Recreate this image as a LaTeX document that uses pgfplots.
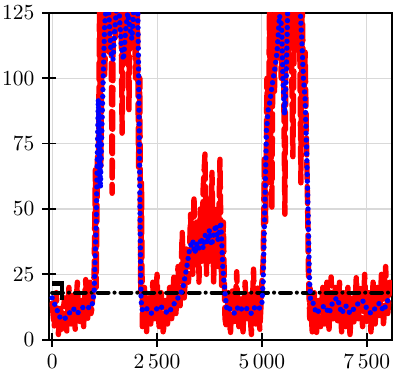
\documentclass[border=0pt]{standalone}
\usepackage{pgfplots}
\pgfplotsset{compat=1.18}
\usetikzlibrary{calc}

\begin{document}
\begin{tikzpicture}
\begin{axis}[
  scale only axis,
  width=159.5pt, height=152pt,
  xmin=-75, xmax=8100,
  ymin=0, ymax=125,
  xtick={0,2500,5000,7500},
  ytick={0,25,50,75,100,125},
  /pgf/number format/1000 sep={\,},
  scaled x ticks=false,
  xtick pos=bottom, ytick pos=left,
  tick align=center,
  major tick length=6.5pt,
  every tick/.style={black, line width=0.8pt},
  axis line style={line width=0.8pt},
  grid=major,
  major grid style={gray!30, line width=0.5pt},
]
% noisy raw signal
\addplot[red, line width=2.5pt, line cap=round, line join=round,
  dash pattern=on 8pt off 3.3pt] coordinates {
(0,14) (25,9) (50,5) (75,12) (100,18) (125,7) (150,2) (175,10) (200,12) (225,4) (250,8)
(275,13) (300,16) (325,9) (350,3) (375,12) (400,20) (425,10) (450,6) (475,14)
(500,17) (525,9) (550,4) (575,15) (600,22) (625,12) (650,7) (675,13) (700,15) (725,9)
(750,5) (775,16) (800,23) (825,12) (850,8) (875,17) (900,22) (925,10) (950,12)
(1000,25) (1030,65) (1050,20) (1080,70) (1100,60) (1130,128) (1160,66) (1200,130)
(1250,100) (1300,130) (1350,110) (1400,130) (1430,56) (1460,130) (1500,115) (1550,130)
(1600,120) (1640,130) (1667,79) (1700,130) (1750,110) (1800,130) (1830,88) (1860,130)
(1900,115) (1950,130) (1990,100) (2030,130) (2060,66) (2090,100) (2110,18) (2130,60)
(2150,5) (2175,14) (2200,20) (2225,9) (2250,3) (2275,12) (2300,16) (2325,10) (2350,6)
(2375,15) (2400,22) (2425,12) (2450,8) (2475,16) (2500,25) (2525,11) (2550,5) (2575,13)
(2600,18) (2625,8) (2650,2) (2675,11) (2700,15) (2725,10) (2750,6) (2775,14) (2800,20)
(2825,12) (2850,8) (2875,16) (2900,24) (2925,13) (2950,10) (2975,18) (3000,28)
(3050,12) (3100,41) (3150,15) (3200,35) (3250,22) (3300,48) (3350,25) (3380,55)
(3420,28) (3450,45) (3500,22) (3530,50) (3570,30) (3600,58) (3643,71) (3680,25)
(3720,55) (3760,30) (3810,64) (3850,22) (3900,50) (3950,28) (4000,69) (4040,20)
(4080,45) (4120,8) (4150,5) (4175,12) (4200,18) (4225,8) (4250,2) (4275,12) (4300,20)
(4325,11) (4350,7) (4375,16) (4400,26) (4425,12) (4450,5) (4475,11) (4500,16) (4525,9)
(4550,3) (4575,13) (4600,22) (4625,13) (4650,8) (4675,12) (4700,18) (4725,8) (4750,2)
(4775,14) (4800,27) (4825,12) (4850,6) (4875,13) (4900,20) (4925,10) (4950,4) (4975,12)
(5000,22) (5030,30) (5060,70) (5090,45) (5120,100) (5150,60) (5180,125)
(5210,80) (5238,50) (5270,130) (5300,95) (5340,130) (5380,110) (5420,130) (5460,100)
(5500,130) (5548,48) (5580,130) (5620,105) (5660,130) (5700,115) (5738,70) (5780,130)
(5820,110) (5860,130) (5900,120) (5929,60) (5960,130) (6000,90) (6030,110) (6060,79)
(6090,50) (6110,25) (6140,8) (6150,20) (6175,10) (6200,3) (6225,11) (6250,18) (6275,8)
(6300,2) (6325,9) (6350,15) (6375,9) (6400,5) (6425,13) (6450,20) (6475,12) (6500,6)
(6525,14) (6550,22) (6575,11) (6600,4) (6625,14) (6650,24) (6675,14) (6700,8) (6725,13)
(6750,20) (6775,12) (6800,6) (6825,15) (6850,22) (6875,11) (6900,3) (6925,10) (6950,18)
(6975,11) (7000,5) (7025,13) (7050,20) (7075,9) (7100,2) (7125,9) (7150,16) (7175,10)
(7200,6) (7225,15) (7250,24) (7275,14) (7300,8) (7325,14) (7350,20) (7375,11) (7400,5)
(7425,15) (7450,25) (7475,14) (7500,7) (7525,12) (7550,18) (7575,10) (7600,3) (7625,12)
(7650,22) (7675,13) (7700,6) (7725,13) (7750,20) (7775,13) (7800,8) (7825,16) (7850,25)
(7875,14) (7900,5) (7925,16) (7950,28) (7975,17) (8000,10) (8025,15) (8050,22)
};
% threshold
\addplot[black, line width=1.9pt] coordinates {(0,21.5) (230,21.5) (230,15)};
\addplot[black, line width=1.9pt, line cap=round,
  dash pattern=on 5pt off 2.8pt on 0pt off 2.8pt] coordinates {(0,18) (8050,18)};
% smoothed signal
\addplot[blue, line width=2.5pt, line cap=round,
  dash pattern=on 0pt off 3.2pt] coordinates {
(0,16) (100,12) (200,8) (300,8) (400,10) (500,12) (600,10) (700,12) (800,13) (900,12)
(950,13) (1000,18) (1050,45) (1100,92) (1150,58) (1200,90) (1250,120) (1300,130)
(1350,125) (1400,110) (1450,107) (1500,120) (1550,130) (1600,125) (1650,112) (1700,107)
(1750,118) (1800,125) (1850,120) (1900,115) (1950,128) (2000,130) (2040,128) (2070,90)
(2100,40) (2120,15) (2150,11) (2250,12) (2350,10) (2450,11) (2550,13) (2650,12)
(2750,10) (2850,12) (2950,15) (3050,17) (3120,20) (3200,27) (3280,35) (3350,38)
(3400,33) (3450,37) (3500,35) (3550,39) (3600,35) (3650,40) (3700,37) (3750,42)
(3800,36) (3850,40) (3900,44) (3950,38) (4020,45) (4070,27) (4120,18) (4170,11)
(4250,12) (4350,10) (4450,13) (4550,11) (4650,12) (4750,10) (4850,13) (4950,12)
(5000,14) (5030,22) (5070,52) (5110,80) (5150,88) (5190,91) (5250,98) (5310,104)
(5360,110) (5420,124) (5470,120) (5500,100) (5540,86) (5580,100) (5620,130) (5700,135)
(5800,135) (5900,130) (5950,115) (5990,100) (6030,92) (6070,70) (6100,50) (6130,25)
(6160,15) (6200,15) (6300,10) (6400,12) (6500,13) (6600,10) (6700,15) (6800,16)
(6900,10) (7000,13) (7100,10) (7200,12) (7300,14) (7400,15) (7500,12) (7600,10)
(7700,12) (7800,14) (7900,11) (8000,15) (8050,16)
};
\end{axis}
\pgfresetboundingbox
\useasboundingbox ($(current axis.south west)+(-22.8pt,-15.8pt)$)
  rectangle ($(current axis.north east)+(7pt,6pt)$);
\end{tikzpicture}
\end{document}
